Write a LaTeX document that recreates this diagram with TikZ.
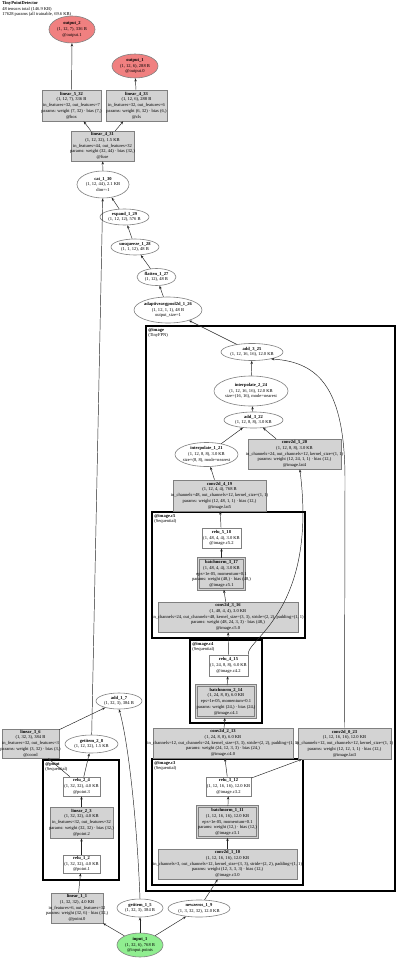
\documentclass[tikz,border=0pt]{standalone}
\usepackage{fontspec}
\setmainfont{Liberation Serif}
\usetikzlibrary{shapes.geometric,arrows.meta}
\definecolor{boxgray}{RGB}{211,211,211}
\definecolor{bordgray}{RGB}{128,128,128}
\definecolor{outred}{RGB}{240,128,128}
\definecolor{ingreen}{RGB}{144,238,144}
\tikzset{
 base/.style={draw=bordgray, line width=0.45pt, inner sep=0pt},
 opbox/.style={base, rectangle, fill=boxgray},
 plainbox/.style={base, rectangle, fill=white},
 bnbox/.style={rectangle, draw=bordgray, line width=0.4pt, double=boxgray, double distance=0.8pt, fill=boxgray, inner sep=0pt},
 opell/.style={base, ellipse, fill=white},
 outell/.style={base, ellipse, fill=outred},
 inell/.style={base, ellipse, fill=ingreen},
 txt/.style={align=center, inner sep=0pt, font=\fontsize{3.4}{4.3}\selectfont},
 clus/.style={draw=black, line width=1.1pt},
 clustxt/.style={anchor=north west, align=left, inner sep=0pt, font=\fontsize{3.4}{3.9}\selectfont},
 edge/.style={draw=black!85, line width=0.35pt, -{Stealth[length=2.4pt,width=1.8pt]}},
}
\newcommand{\gv}[7]{\node[#1, minimum width=#5*0.75pt, minimum height=#6*0.75pt] (#2) at (#3,#4) {};
 \node[txt] (#2-t) at (#2.center) {#7};}
\begin{document}
\begin{tikzpicture}[x=0.75pt,y=-0.75pt]
\useasboundingbox[fill=white] (0,0) rectangle (400,963);
% header
\node[clustxt] (hdr) at (2,1.5) {\textbf{TinyPointDetector}\\48 tensors total (146.9 KB)\\17628 params (all trainable, 69.6 KB)};
% clusters
\draw[clus] (146,326) rectangle (395,891);
\node[clustxt] (cl-image) at (148,328) {\textbf{@image}\\(TinyFPN)};
\draw[clus] (152,512) rectangle (305,638);
\node[clustxt] (cl-c5) at (154,514) {\textbf{@image.c5}\\(Sequential)};
\draw[clus] (190,640) rectangle (262,723);
\node[clustxt] (cl-c4) at (192,642) {\textbf{@image.c4}\\(Sequential)};
\draw[clus] (152,759) rectangle (303,885);
\node[clustxt] (cl-c3) at (154,761) {\textbf{@image.c3}\\(Sequential)};
\draw[clus] (43,760) rectangle (119,880);
\node[clustxt] (cl-point) at (45,762) {\textbf{@point}\\(Sequential)};
% nodes
\gv{outell}{output_2}{72}{29.5}{46}{27}{\textbf{output\_2}\\(1, 12, 7), 336 B\\@output.1}
\gv{outell}{output_1}{135}{66}{46}{24}{\textbf{output\_1}\\(1, 12, 6), 288 B\\@output.0}
\gv{opbox}{linear_5_32}{71.5}{105.5}{59}{31}{\textbf{linear\_5\_32}\\(1, 12, 7), 336 B\\in\_features=32, out\_features=7\\params: weight (7, 32) · bias (7,)\\@box}
\gv{opbox}{linear_4_33}{136.5}{105.5}{61}{31}{\textbf{linear\_4\_33}\\(1, 12, 6), 288 B\\in\_features=32, out\_features=6\\params: weight (6, 32) · bias (6,)\\@cls}
\gv{opbox}{linear_4_31}{102.5}{146}{63}{30}{\textbf{linear\_4\_31}\\(1, 12, 32), 1.5 KB\\in\_features=44, out\_features=32\\params: weight (32, 44) · bias (32,)\\@fuse}
\gv{opell}{cat_1_30}{103}{184.5}{52}{27}{\textbf{cat\_1\_30}\\(1, 12, 44), 2.1 KB\\dim=-1}
\gv{opell}{expand_1_29}{124.5}{217}{49}{16}{\textbf{expand\_1\_29}\\(1, 12, 12), 576 B}
\gv{opell}{unsqueeze_1_28}{135}{247}{48}{16}{\textbf{unsqueeze\_1\_28}\\(1, 1, 12), 48 B}
\gv{opell}{flatten_1_27}{156.5}{277}{39}{17}{\textbf{flatten\_1\_27}\\(1, 12), 48 B}
\gv{opell}{adaptiveavgpool2d_1_26}{168}{310}{68}{26}{\textbf{adaptiveavgpool2d\_1\_26}\\(1, 12, 1, 1), 48 B\\output\_size=1}
\gv{opell}{add_3_25}{252}{352}{62}{17}{\textbf{add\_3\_25}\\(1, 12, 16, 16), 12.0 KB}
\gv{opell}{interpolate_2_24}{251}{391}{74}{30}{\textbf{interpolate\_2\_24}\\(1, 12, 16, 16), 12.0 KB\\size=(16, 16), mode=nearest}
\gv{opell}{add_3_22}{253.5}{420}{59}{16}{\textbf{add\_3\_22}\\(1, 12, 8, 8), 3.0 KB}
\gv{opell}{interpolate_1_21}{206.5}{454.5}{63}{24}{\textbf{interpolate\_1\_21}\\(1, 12, 8, 8), 3.0 KB\\size=(8, 8), mode=nearest}
\gv{opbox}{conv2d_5_20}{294.5}{454}{93}{30}{\textbf{conv2d\_5\_20}\\(1, 12, 8, 8), 3.0 KB\\in\_channels=24, out\_channels=12, kernel\_size=(1, 1)\\params: weight (12, 24, 1, 1) · bias (12,)\\@image.lat4}
\gv{opbox}{conv2d_4_19}{219.5}{495.5}{93}{31}{\textbf{conv2d\_4\_19}\\(1, 12, 4, 4), 768 B\\in\_channels=48, out\_channels=12, kernel\_size=(1, 1)\\params: weight (12, 48, 1, 1) · bias (12,)\\@image.lat5}
\gv{plainbox}{relu_5_18}{221.5}{538}{39}{20}{\textbf{relu\_5\_18}\\(1, 48, 4, 4), 3.0 KB\\@image.c5.2}
\gv{bnbox}{batchnorm_3_17}{221.5}{574}{46}{31}{\textbf{batchnorm\_3\_17}\\(1, 48, 4, 4), 3.0 KB\\eps=1e-05, momentum=0.1\\params: weight (48,) · bias (48,)\\@image.c5.1}
\gv{opbox}{conv2d_3_16}{228}{617}{140}{30}{\textbf{conv2d\_3\_16}\\(1, 48, 4, 4), 3.0 KB\\in\_channels=24, out\_channels=48, kernel\_size=(3, 3), stride=(2, 2), padding=(1, 1)\\params: weight (48, 24, 3, 3) · bias (48,)\\@image.c5.0}
\gv{plainbox}{relu_4_15}{228.5}{665.5}{39}{21}{\textbf{relu\_4\_15}\\(1, 24, 8, 8), 6.0 KB\\@image.c4.2}
\gv{bnbox}{batchnorm_2_14}{226}{701.5}{59}{32}{\textbf{batchnorm\_2\_14}\\(1, 24, 8, 8), 6.0 KB\\eps=1e-05, momentum=0.1\\params: weight (24,) · bias (24,)\\@image.c4.1}
\gv{opbox}{conv2d_2_13}{223}{743}{140}{30}{\textbf{conv2d\_2\_13}\\(1, 24, 8, 8), 6.0 KB\\in\_channels=12, out\_channels=24, kernel\_size=(3, 3), stride=(2, 2), padding=(1, 1)\\params: weight (24, 12, 3, 3) · bias (24,)\\@image.c4.0}
\gv{opbox}{conv2d_0_23}{344.5}{743.5}{93}{31}{\textbf{conv2d\_0\_23}\\(1, 12, 16, 16), 12.0 KB\\in\_channels=12, out\_channels=12, kernel\_size=(1, 1)\\params: weight (12, 12, 1, 1) · bias (12,)\\@image.lat3}
\gv{plainbox}{relu_3_12}{228.5}{786.5}{45}{19}{\textbf{relu\_3\_12}\\(1, 12, 16, 16), 12.0 KB\\@image.c3.2}
\gv{bnbox}{batchnorm_1_11}{227.5}{822}{60}{31}{\textbf{batchnorm\_1\_11}\\(1, 12, 16, 16), 12.0 KB\\eps=1e-05, momentum=0.1\\params: weight (12,) · bias (12,)\\@image.c3.1}
\gv{opbox}{conv2d_1_10}{227.5}{864}{139}{30}{\textbf{conv2d\_1\_10}\\(1, 12, 16, 16), 12.0 KB\\in\_channels=3, out\_channels=12, kernel\_size=(3, 3), stride=(2, 2), padding=(1, 1)\\params: weight (12, 3, 3, 3) · bias (12,)\\@image.c3.0}
\gv{opell}{newzeros_1_9}{199}{908.5}{62}{17}{\textbf{newzeros\_1\_9}\\(1, 3, 32, 32), 12.0 KB}
\gv{opell}{getitem_1_5}{140}{908}{46}{18}{\textbf{getitem\_1\_5}\\(1, 32, 3), 384 B}
\gv{inell}{input_1}{140}{945}{46}{24}{\textbf{input\_1}\\(1, 32, 6), 768 B\\@input.points}
\gv{opbox}{linear_1_1}{77}{908}{52}{30}{\textbf{linear\_1\_1}\\(1, 32, 32), 4.0 KB\\in\_features=6, out\_features=32\\params: weight (32, 6) · bias (32,)\\@point.0}
\gv{plainbox}{relu_1_2}{81.5}{864}{37}{18}{\textbf{relu\_1\_2}\\(1, 32, 32), 4.0 KB\\@point.1}
\gv{opbox}{linear_2_3}{81.5}{822.5}{63}{31}{\textbf{linear\_2\_3}\\(1, 32, 32), 4.0 KB\\in\_features=32, out\_features=32\\params: weight (32, 32) · bias (32,)\\@point.2}
\gv{plainbox}{relu_2_4}{81.5}{786.5}{37}{19}{\textbf{relu\_2\_4}\\(1, 32, 32), 4.0 KB\\@point.3}
\gv{opbox}{linear_3_6}{30.5}{743.5}{57}{29}{\textbf{linear\_3\_6}\\(1, 32, 3), 384 B\\in\_features=32, out\_features=3\\params: weight (3, 32) · bias (3,)\\@coord}
\gv{opell}{getitem_2_8}{91.5}{744}{53}{18}{\textbf{getitem\_2\_8}\\(1, 12, 32), 1.5 KB}
\gv{opell}{add_1_7}{119}{701}{46}{16}{\textbf{add\_1\_7}\\(1, 32, 3), 384 B}
% edges
\draw[edge] (input_1) -- (linear_1_1);
\draw[edge] (input_1) -- (getitem_1_5);
\draw[edge] (input_1) -- (newzeros_1_9);
\draw[edge] (linear_1_1) -- (relu_1_2);
\draw[edge] (relu_1_2) -- (linear_2_3);
\draw[edge] (linear_2_3) -- (relu_2_4);
\draw[edge] (relu_2_4) -- (linear_3_6);
\draw[edge] (relu_2_4) -- (getitem_2_8);
\draw[edge] (linear_3_6) -- (add_1_7);
\draw[edge] (getitem_1_5.north) .. controls (137,820) and (128,740) .. (add_1_7.south);
\draw[edge] (getitem_2_8) -- (cat_1_30);
\draw[edge] (newzeros_1_9) -- (conv2d_1_10);
\draw[edge] (conv2d_1_10) -- (batchnorm_1_11);
\draw[edge] (batchnorm_1_11) -- (relu_3_12);
\draw[edge] (relu_3_12) -- (conv2d_2_13);
\draw[edge] (relu_3_12) -- (conv2d_0_23);
\draw[edge] (conv2d_2_13) -- (batchnorm_2_14);
\draw[edge] (batchnorm_2_14) -- (relu_4_15);
\draw[edge] (relu_4_15) -- (conv2d_3_16);
\draw[edge] (relu_4_15.north east) .. controls (245,640) and (318,612) .. ([xshift=4pt]conv2d_5_20.south);
\draw[edge] (conv2d_3_16) -- (batchnorm_3_17);
\draw[edge] (batchnorm_3_17) -- (relu_5_18);
\draw[edge] (relu_5_18) -- (conv2d_4_19);
\draw[edge] (conv2d_4_19) -- (interpolate_1_21);
\draw[edge] (interpolate_1_21) -- (add_3_22);
\draw[edge] (conv2d_5_20) -- (add_3_22);
\draw[edge] (add_3_22) -- (interpolate_2_24);
\draw[edge] (interpolate_2_24) -- (add_3_25);
\draw[edge] (conv2d_0_23.north) -- (345,480) .. controls (345,390) and (320,362) .. (add_3_25.-20);
\draw[edge] (add_3_25) -- (adaptiveavgpool2d_1_26);
\draw[edge] (adaptiveavgpool2d_1_26) -- (flatten_1_27);
\draw[edge] (flatten_1_27) -- (unsqueeze_1_28);
\draw[edge] (unsqueeze_1_28) -- (expand_1_29);
\draw[edge] (expand_1_29) -- (cat_1_30);
\draw[edge] (cat_1_30) -- (linear_4_31);
\draw[edge] (linear_4_31) -- (linear_5_32);
\draw[edge] (linear_4_31) -- (linear_4_33);
\draw[edge] (linear_5_32) -- (output_2);
\draw[edge] (linear_4_33) -- (output_1);
\end{tikzpicture}
\end{document}
